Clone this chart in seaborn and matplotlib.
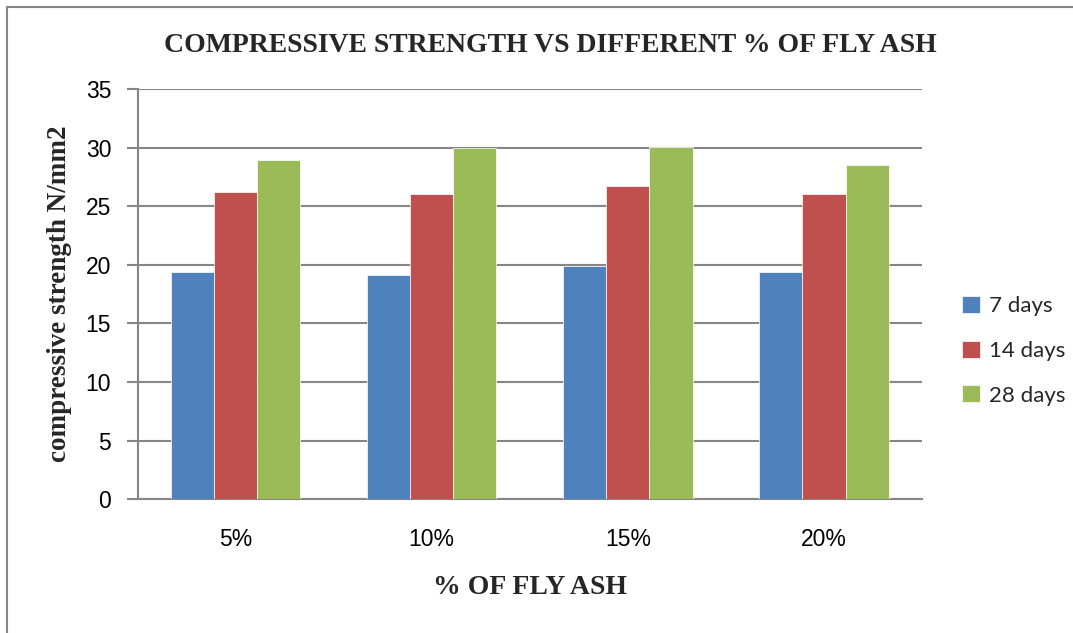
import matplotlib
matplotlib.use("Agg")
import matplotlib.pyplot as plt
from matplotlib.patches import Rectangle
import seaborn as sns
import pandas as pd

# Fly ash replacement levels and compressive strength (N/mm2) at each curing age
fly_ash = ["5%", "10%", "15%", "20%"]
days_7 = [19.4, 19.1, 19.9, 19.4]
days_14 = [26.2, 26.05, 26.75, 26.05]
days_28 = [28.95, 29.95, 30.05, 28.55]
ages = ["7 days", "14 days", "28 days"]
colors = ["#4F81BD", "#C0504D", "#9BBB59"]

df = pd.DataFrame({
    "fly_ash": fly_ash * 3,
    "strength": days_7 + days_14 + days_28,
    "age": [ages[0]] * 4 + [ages[1]] * 4 + [ages[2]] * 4,
})

sns.set_theme(style="white")
plt.rcParams["font.family"] = ["Liberation Sans Narrow", "Liberation Sans", "DejaVu Sans"]

W, H = 1073, 633
fig = plt.figure(figsize=(W / 100, H / 100), dpi=100)
ax = fig.add_axes([137.5 / W, 1 - 499.3 / H, (922 - 137.5) / W, (499.3 - 89) / H])

sns.barplot(data=df, x="fly_ash", y="strength", hue="age", order=fly_ash,
            hue_order=ages, palette=colors, saturation=1, width=0.66, gap=0,
            edgecolor="white", linewidth=0.5, ax=ax, legend=True, zorder=3)

grid_c = "#868686"
ax.set_ylim(0, 35)
ax.set_yticks(range(0, 36, 5))
ax.yaxis.grid(True, color=grid_c, linewidth=1.5, zorder=0)
ax.set_axisbelow(True)
for s in ["top", "right"]:
    ax.spines[s].set_visible(False)
for s in ["left", "bottom"]:
    ax.spines[s].set_color(grid_c)
    ax.spines[s].set_linewidth(1.5)
ax.tick_params(axis="y", which="major", left=True, length=8, width=1.5,
               color=grid_c, pad=11, labelsize=16.5, labelcolor="black")
ax.tick_params(axis="x", bottom=False, pad=15, labelsize=16.5, labelcolor="black")
ax.set_xlabel("")
ax.set_ylabel("")

# Legend at right of the plot
handles, labels = ax.get_legend_handles_labels()
ax.legend_.remove()
fig.legend(handles, labels, loc="upper left", bbox_to_anchor=(942 / W, 1 - 276 / H),
           frameon=False, handlelength=0.8, handleheight=0.8, handletextpad=0.4,
           labelspacing=1.1, prop={"family": ["Lato", "DejaVu Sans"], "size": 16})

serif_bold = {"family": ["Liberation Serif", "DejaVu Serif"], "weight": "bold"}
fig.text(550 / W, 1 - 45 / H, "COMPRESSIVE STRENGTH VS DIFFERENT % OF FLY ASH",
         ha="center", va="center", fontsize=20, **serif_bold)
fig.text(530 / W, 1 - 588 / H, "% OF FLY ASH", ha="center", va="center",
         fontsize=20, **serif_bold)
fig.text(60 / W, 1 - 294 / H, "compressive strength N/mm2", ha="center", va="center",
         rotation=90, fontsize=19.5, **serif_bold)

# Outer chart-area border
fig.add_artist(Rectangle((7 / W, -0.1), 1.1, 1.1 - 7 / H, transform=fig.transFigure,
                         fill=False, edgecolor=grid_c, linewidth=1.5))

fig.savefig("out.png", dpi=100)
